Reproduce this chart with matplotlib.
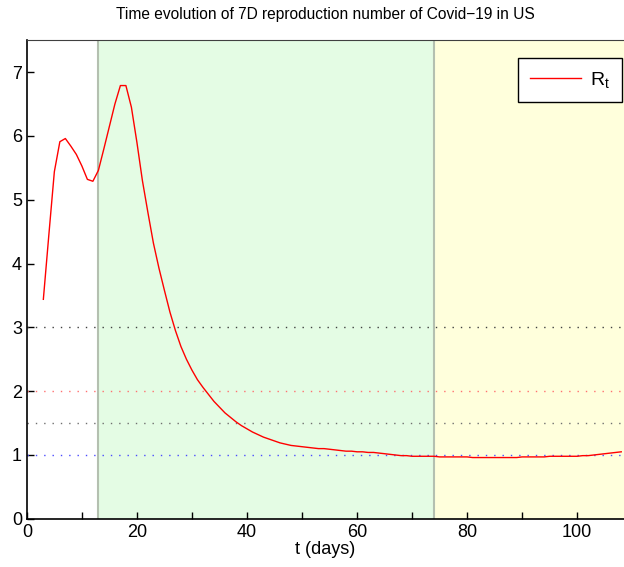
import matplotlib
matplotlib.use("Agg")
import matplotlib.pyplot as plt
from matplotlib.ticker import MultipleLocator

plt.rcParams['font.family'] = ['Liberation Sans', 'DejaVu Sans']
plt.rcParams['mathtext.fontset'] = 'custom'
plt.rcParams['mathtext.rm'] = 'Liberation Sans'

t_days = list(range(3, 109))
rt = [3.44, 4.45, 5.44, 5.91, 5.96, 5.84, 5.71, 5.53, 5.32, 5.29,
      5.46, 5.80, 6.15, 6.50, 6.79, 6.79, 6.45, 5.90, 5.30, 4.80,
      4.32, 3.93, 3.58, 3.24, 2.95, 2.70, 2.50, 2.33, 2.18, 2.06,
      1.95, 1.84, 1.75, 1.66, 1.59, 1.52, 1.46, 1.41, 1.36, 1.32,
      1.28, 1.25, 1.22, 1.19, 1.17, 1.15, 1.14, 1.13, 1.12, 1.11,
      1.10, 1.10, 1.09, 1.08, 1.07, 1.06, 1.06, 1.05, 1.05, 1.04,
      1.04, 1.03, 1.02, 1.01, 1.00, 0.99, 0.99, 0.98, 0.98, 0.98,
      0.98, 0.98, 0.97, 0.97, 0.97, 0.97, 0.97, 0.97, 0.96, 0.96,
      0.96, 0.96, 0.96, 0.96, 0.96, 0.96, 0.96, 0.97, 0.97, 0.97,
      0.97, 0.97, 0.98, 0.98, 0.98, 0.98, 0.98, 0.98, 0.99, 0.99,
      1.00, 1.01, 1.02, 1.03, 1.04, 1.05]

phase_bounds = [13, 74]
ref_levels = [3, 2, 1.5, 1]
ref_colors = ['#404040', '#ff7070', '#707070', '#4a4aff']

fig = plt.figure(figsize=(6.24, 5.67), dpi=100)
ax = fig.add_axes([0.043, 0.085, 0.957, 0.844])
xmax = 108.5
ax.set_xlim(0, xmax)
ax.set_ylim(0, 7.5)

ax.axvspan(phase_bounds[0], phase_bounds[1], color='#e4fce4', zorder=0, lw=0)
ax.axvspan(phase_bounds[1], xmax, color='#ffffdc', zorder=0, lw=0)
for b in phase_bounds:
    ax.axvline(b, color='#b4c0b0', lw=1.5, zorder=1)

for lvl, c in zip(ref_levels, ref_colors):
    ax.axhline(lvl, color=c, lw=1.0, ls=(0, (1, 5)), zorder=2)

ax.plot(t_days, rt, color='red', lw=1.0, label=r'$\mathrm{R_t}$', zorder=3)

ax.set_title('Time evolution of 7D reproduction number of Covid\u221219 in US', fontsize=11.2, pad=15)
ax.set_xlabel('t (days)', fontsize=13, labelpad=0)
ax.xaxis.set_major_locator(MultipleLocator(20))
ax.xaxis.set_minor_locator(MultipleLocator(10))
ax.yaxis.set_major_locator(MultipleLocator(1))
ax.tick_params(axis='both', which='both', direction='in', length=5, width=1, labelsize=13,
               top=False, right=False)
ax.tick_params(axis='x', pad=4)
for s in ['left', 'bottom']:
    ax.spines[s].set_linewidth(1.2)
ax.spines['top'].set_color('#404040')
ax.spines['right'].set_visible(False)

leg = ax.legend(loc='upper right', bbox_to_anchor=(1.0, 0.966), fontsize=14,
                fancybox=False, framealpha=1, edgecolor='black', handlelength=2.6,
                borderpad=0.6, handletextpad=0.5, borderaxespad=0.1)
leg.get_frame().set_linewidth(1.0)

fig.savefig('out.png', dpi=100)
